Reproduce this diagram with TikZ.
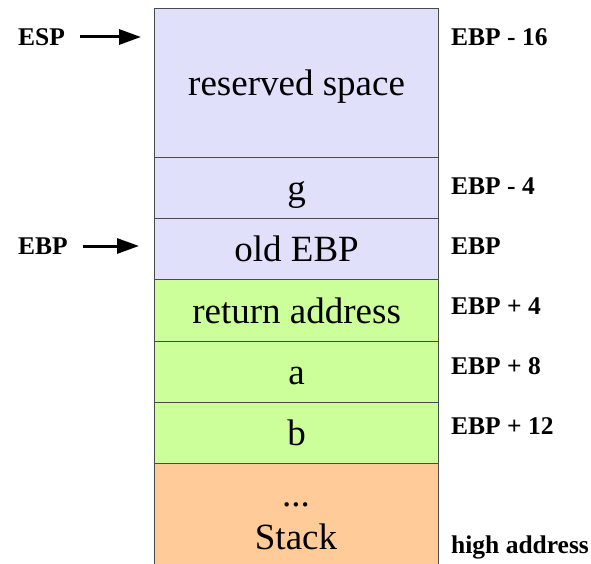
\documentclass[tikz,border=0pt]{standalone}
\usepackage{fontspec}
\setmainfont{Liberation Serif}
\usetikzlibrary{arrows.meta}
\definecolor{frameC}{HTML}{E0E0FA}
\definecolor{argC}{HTML}{CCFF99}
\definecolor{stackC}{HTML}{FFCC99}
\definecolor{edgeC}{HTML}{4A4A4A}
\tikzset{
  cell/.style={draw=edgeC, line width=1.2pt, rectangle, minimum width=284pt,
    inner sep=0pt, text height=28pt, text depth=3pt, anchor=north west,
    font=\fontsize{37}{40}\selectfont},
  celltext/.style={inner sep=0pt, anchor=base, font=\fontsize{37}{40}\selectfont},
  addr/.style={anchor=west, inner sep=0pt, font=\fontsize{25.5}{28}\selectfont\bfseries},
  reg/.style={anchor=west, inner sep=0pt, font=\fontsize{25.5}{28}\selectfont\bfseries},
  ptr/.style={line width=3pt, -{Triangle[length=22pt,width=15pt]}, shorten <=15pt}
}
\begin{document}
\begin{tikzpicture}[x=1pt,y=1pt]
\useasboundingbox (0,0) rectangle (591,563);
% stack cells, top to bottom
\node[cell, fill=frameC, minimum height=149pt] (res) at (154,555) {reserved space};
\node[cell, fill=frameC, minimum height=61pt] (g) at (154,406) {g};
\node[cell, fill=frameC, minimum height=61pt] (old) at (154,345) {old EBP};
\node[cell, fill=argC, minimum height=62pt] (ret) at (154,284) {return address};
\node[cell, fill=argC, minimum height=61pt] (a) at (154,222) {a};
\node[cell, fill=argC, minimum height=61pt] (b) at (154,161) {b};
\node[cell, fill=stackC, minimum height=120pt] (stk) at (154,100) {};
\node[celltext] (dots) at (296,57) {...};
\node[celltext] (stklbl) at (296,14) {Stack};
% address labels
\node[addr] (l16) at (451,526) {EBP - 16};
\node[addr] (l4) at (451,377) {EBP - 4};
\node[addr] (l0) at (451,317) {EBP};
\node[addr] (p4) at (451,257) {EBP + 4};
\node[addr] (p8) at (451,197) {EBP + 8};
\node[addr] (p12) at (451,137) {EBP + 12};
\node[addr] (hi) at (451,16) {high address};
% register pointers
\node[reg] (esp) at (18,526) {ESP};
\node[reg] (ebp) at (18,317) {EBP};
\coordinate (esptip) at (141,526);
\coordinate (ebptip) at (139,317);
\draw[ptr] (esp) -- (esptip);
\draw[ptr] (ebp) -- (ebptip);
\end{tikzpicture}
\end{document}
